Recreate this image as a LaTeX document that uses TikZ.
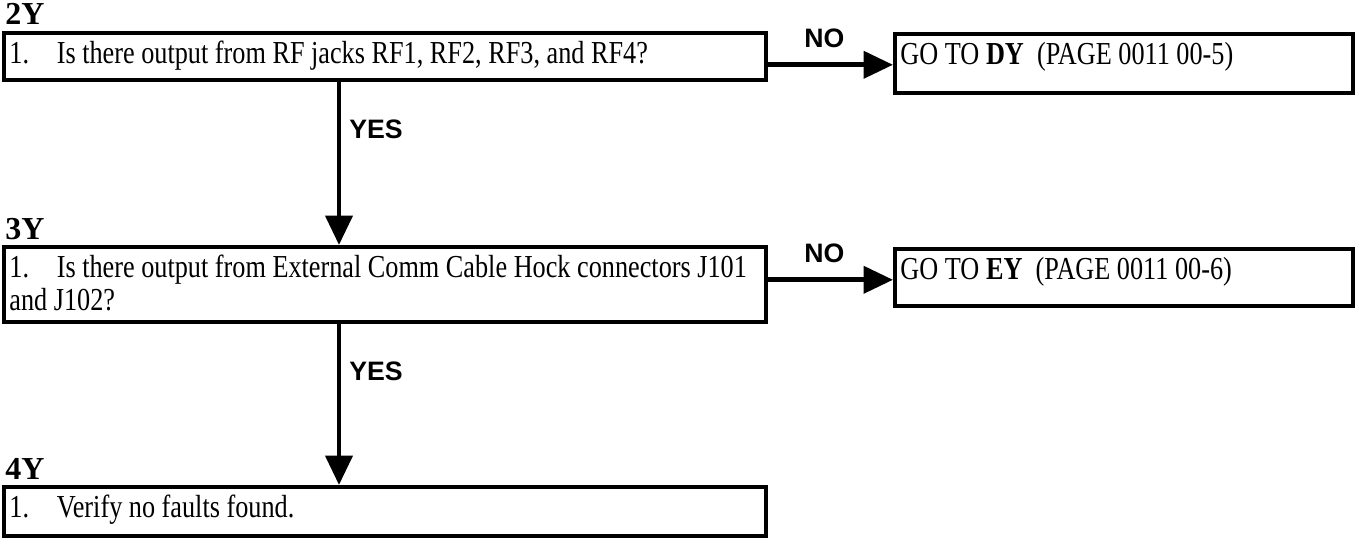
\documentclass[tikz,border=0pt]{standalone}
\usepackage{fontspec}
\setmainfont{Liberation Serif}
\newfontfamily\bodyfont[FakeStretch=0.82]{Liberation Serif}
\newfontfamily\lblfont{Liberation Sans}
\usetikzlibrary{arrows.meta,positioning}
\tikzset{
  qbox/.style={draw, line width=3.2pt, anchor=north west, inner xsep=4pt, inner ysep=0pt,
               text height=23pt, font=\bodyfont\fontsize{24}{24.75}\selectfont},
  steplbl/.style={anchor=base west, inner sep=0pt, font=\fontsize{24}{24}\selectfont\bfseries},
  ynlbl/.style={inner sep=0pt, font=\lblfont\fontsize{20}{20}\selectfont\bfseries},
  flow/.style={-{Triangle[length=22pt,width=20pt]}, line width=3.6pt},
}
\newcommand{\qtxt}[2]{\parbox[t]{#1}{\raggedright #2}}
\newcommand{\stepno}{\makebox[35.5pt][l]{1.}}

\begin{document}
\begin{tikzpicture}[x=0.75pt, y=-0.75pt]
  \useasboundingbox (0,0) rectangle (1356,538);

  % question boxes
  \node[qbox, text depth=12.25pt] (q1) at (2,31)
    {\qtxt{563.5pt}{\stepno Is there output from RF jacks RF1, RF2, RF3, and RF4?}};
  \node[qbox, text depth=33.25pt] (q2) at (2,245)
    {\qtxt{563.5pt}{\stepno Is there output from External Comm Cable Hock connectors J101\\and J102?}};
  \node[qbox, text depth=13.75pt] (q3) at (2,485)
    {\qtxt{563.5pt}{\stepno Verify no faults found.}};

  % answer boxes
  \node[qbox, text depth=21.25pt] (a1) at (893,32)
    {\qtxt{335.5pt}{GO TO \textbf{DY}\ \ (PAGE 0011 00-5)}};
  \node[qbox, text depth=19.75pt] (a2) at (893,247)
    {\qtxt{335.5pt}{GO TO \textbf{EY}\ \ (PAGE 0011 00-6)}};

  % step labels
  \node[steplbl] (s2) at ([shift={(3,-6)}]q1.north west) {2Y};
  \node[steplbl] (s3) at ([shift={(3,-5)}]q2.north west) {3Y};
  \node[steplbl] (s4) at ([shift={(3,-6)}]q3.north west) {4Y};

  % connectors
  \coordinate (yesx) at (339,0);
  \draw[flow] (q1.east |- a1.base west) -- node[ynlbl, pos=0.45, above=11pt] (no1) {NO} (a1.base west);
  \draw[flow] (q2.east |- a2.base west) -- node[ynlbl, pos=0.45, above=11pt] (no2) {NO} (a2.base west);
  \draw[flow] (q1.south -| yesx) -- node[ynlbl, pos=0.29, anchor=west, xshift=6pt] (yes1) {YES} (q2.north -| yesx);
  \draw[flow] (q2.south -| yesx) -- node[ynlbl, pos=0.29, anchor=west, xshift=6pt] (yes2) {YES} (q3.north -| yesx);
\end{tikzpicture}
\end{document}
